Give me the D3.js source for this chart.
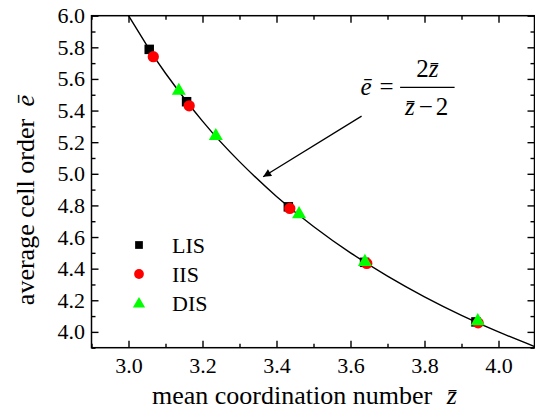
<!DOCTYPE html>
<html><head><meta charset="utf-8">
<script src="https://cdn.jsdelivr.net/npm/d3@7"></script>
<style>
body{margin:0;background:#fff;}
svg{display:block;font-family:"Liberation Serif","Times New Roman",serif;}
</style></head>
<body><svg id="c" width="535" height="409"></svg>
<script>
// ---- data ----
const xMajorTicks = [3.0, 3.2, 3.4, 3.6, 3.8, 4.0];
const xMinorTicks = [2.9, 3.1, 3.3, 3.5, 3.7, 3.9, 4.1];
const yMajorTicks = [4.0, 4.2, 4.4, 4.6, 4.8, 5.0, 5.2, 5.4, 5.6, 5.8, 6.0];
const yMinorTicks = [3.9, 4.1, 4.3, 4.5, 4.7, 4.9, 5.1, 5.3, 5.5, 5.7, 5.9];
const seriesNames = ["LIS", "IIS", "DIS"];
const lisZ = [3.056, 3.157, 3.432, 3.638, 3.939];
const lisE = [5.787, 5.456, 4.791, 4.440, 4.063];
const iisZ = [3.067, 3.164, 3.436, 3.644, 3.945];
const iisE = [5.741, 5.430, 4.781, 4.433, 4.057];
const disZ = [3.136, 3.236, 3.461, 3.639, 3.944];
const disE = [5.525, 5.239, 4.745, 4.443, 4.068];
// theoretical curve e = 2z/(z-2), tabulated
const curveZ = [3.0, 3.05, 3.1, 3.2, 3.3, 3.4, 3.5, 3.6, 3.7, 3.8, 3.9, 4.0, 4.1];
const curveE = [6.0, 5.810, 5.636, 5.333, 5.077, 4.857, 4.667, 4.5, 4.353, 4.222, 4.105, 4.0, 3.905];
const arrowFrom = [3.630, 5.365];
const arrowTo = [3.364, 4.981];
const formulaAt = [3.630, 5.498];

const FONT = "Liberation Serif";
const svg = d3.select("#c");
const x = d3.scaleLinear().domain([2.9, 4.1]).range([91.5, 535.5]);
const y = d3.scaleLinear().domain([3.9, 6.0]).range([347.7, 15.7]);
const L = x(2.9), R = x(4.1) - 1, T = y(6.0), B = y(3.9);

svg.append("defs").append("clipPath").attr("id","clip")
  .append("rect").attr("x",L).attr("y",T).attr("width",R-L).attr("height",B-T);

// curve
const line = d3.line().x(d=>x(d[0])).y(d=>y(d[1])).curve(d3.curveNatural);
svg.append("path").attr("clip-path","url(#clip)")
  .datum(curveZ.map((z,i)=>[z,curveE[i]]))
  .attr("d", line).attr("fill","none").attr("stroke","#000").attr("stroke-width",1.4);

// axes
function styleAxis(g){
  g.attr("font-family",FONT).attr("font-size",22);
  g.select(".domain").remove();
  g.selectAll("line").attr("stroke","#000").attr("stroke-width",1.4);
  g.selectAll("text").attr("font-size",22).attr("font-family",FONT).attr("fill","#000");
}
const fmt = d3.format(".1f");
svg.append("g").attr("transform",`translate(0,${B})`)
  .call(d3.axisBottom(x).tickValues(xMajorTicks).tickSizeInner(-7).tickSizeOuter(0).tickPadding(10).tickFormat(fmt))
  .call(styleAxis);
function ticksOnly(axis, tr){
  const g = svg.append("g").attr("transform",tr).call(axis.tickSizeOuter(0).tickFormat(""));
  g.selectAll("text").remove();
  styleAxis(g);
}
ticksOnly(d3.axisBottom(x).tickValues(xMinorTicks).tickSizeInner(-4), `translate(0,${B})`);
ticksOnly(d3.axisTop(x).tickValues(xMajorTicks).tickSizeInner(-7), `translate(0,${T})`);
ticksOnly(d3.axisTop(x).tickValues(xMinorTicks).tickSizeInner(-4), `translate(0,${T})`);
svg.append("g").attr("transform",`translate(${L},0)`)
  .call(d3.axisLeft(y).tickValues(yMajorTicks).tickSizeInner(-7).tickSizeOuter(0).tickPadding(6.5).tickFormat(fmt))
  .call(styleAxis);
ticksOnly(d3.axisLeft(y).tickValues(yMinorTicks).tickSizeInner(-4), `translate(${L},0)`);
ticksOnly(d3.axisRight(y).tickValues(yMajorTicks).tickSizeInner(-7), `translate(${R},0)`);
ticksOnly(d3.axisRight(y).tickValues(yMinorTicks).tickSizeInner(-4), `translate(${R},0)`);
svg.append("rect").attr("x",L).attr("y",T).attr("width",R-L).attr("height",B-T)
  .attr("fill","none").attr("stroke","#000").attr("stroke-width",1.5);

// markers
const sq = d3.symbol().type(d3.symbolSquare).size(90);
const ci = d3.symbol().type(d3.symbolCircle).size(100);
const tr = d3.symbol().type(d3.symbolTriangle).size(85);
svg.append("g").selectAll("path").data(lisZ.map((z,i)=>[z,lisE[i]])).join("path")
  .attr("d",sq).attr("transform",d=>`translate(${x(d[0])},${y(d[1])})`).attr("fill","#000");
svg.append("g").selectAll("path").data(iisZ.map((z,i)=>[z,iisE[i]])).join("path")
  .attr("d",ci).attr("transform",d=>`translate(${x(d[0])},${y(d[1])})`).attr("fill","#ff0000");
svg.append("g").selectAll("path").data(disZ.map((z,i)=>[z,disE[i]])).join("path")
  .attr("d",tr).attr("transform",d=>`translate(${x(d[0])},${y(d[1])})`).attr("fill","#00ff00");

// legend
const legSyms = [d3.symbol().type(d3.symbolSquare).size(60), d3.symbol().type(d3.symbolCircle).size(75), d3.symbol().type(d3.symbolTriangle).size(65)];
const legCols = ["#000","#ff0000","#00ff00"];
const leg = svg.append("g").attr("transform","translate(139,245)");
seriesNames.forEach((n,i)=>{
  leg.append("path").attr("d",legSyms[i]).attr("fill",legCols[i]).attr("transform",`translate(0,${i*29 + (i===2?1:0)})`);
  leg.append("text").attr("x",33).attr("y",i*29+8).attr("font-size",22).text(n);
});

// axis titles
svg.append("text").attr("x",152).attr("y",404).attr("font-size",26)
  .text("mean coordination number ")
  .append("tspan").attr("font-style","italic").attr("dx",8).text("z\u0304");
svg.append("text").attr("transform","translate(34,200) rotate(-90)").attr("text-anchor","middle").attr("font-size",26)
  .text("average cell order ")
  .append("tspan").attr("font-style","italic").attr("dx",6).text("e\u0304");

// arrow
svg.append("defs").append("marker").attr("id","ah").attr("viewBox","0 0 10 10").attr("refX",10).attr("refY",5)
  .attr("markerWidth",11).attr("markerHeight",8).attr("markerUnits","userSpaceOnUse").attr("orient","auto")
  .append("path").attr("d","M0,0L10,5L0,10z").attr("fill","#000");
svg.append("line").attr("x1",x(arrowFrom[0])).attr("y1",y(arrowFrom[1])).attr("x2",x(arrowTo[0])).attr("y2",y(arrowTo[1]))
  .attr("stroke","#000").attr("stroke-width",1.3).attr("marker-end","url(#ah)");

// formula
const fx = x(formulaAt[0]), fy = y(formulaAt[1]);
const fg = svg.append("g").attr("transform",`translate(${fx},${fy})`).attr("font-size",25);
fg.append("text").attr("x",-1).attr("y",0).attr("font-style","italic").text("e\u0304");
fg.append("text").attr("x",18).attr("y",0).text("=");
fg.append("line").attr("x1",38.5).attr("x2",93).attr("y1",-7.7).attr("y2",-7.7).attr("stroke","#000").attr("stroke-width",1.2);
const num = fg.append("text").attr("x",65.8).attr("y",-18.3).attr("text-anchor","middle");
num.append("tspan").text("2");
num.append("tspan").attr("font-style","italic").text("z\u0304");
const den = fg.append("text").attr("x",65).attr("y",20).attr("text-anchor","middle");
den.append("tspan").attr("font-style","italic").text("z\u0304");
den.append("tspan").attr("dx",4).text("\u2212");
den.append("tspan").attr("dx",3).text("2");
</script></body></html>
